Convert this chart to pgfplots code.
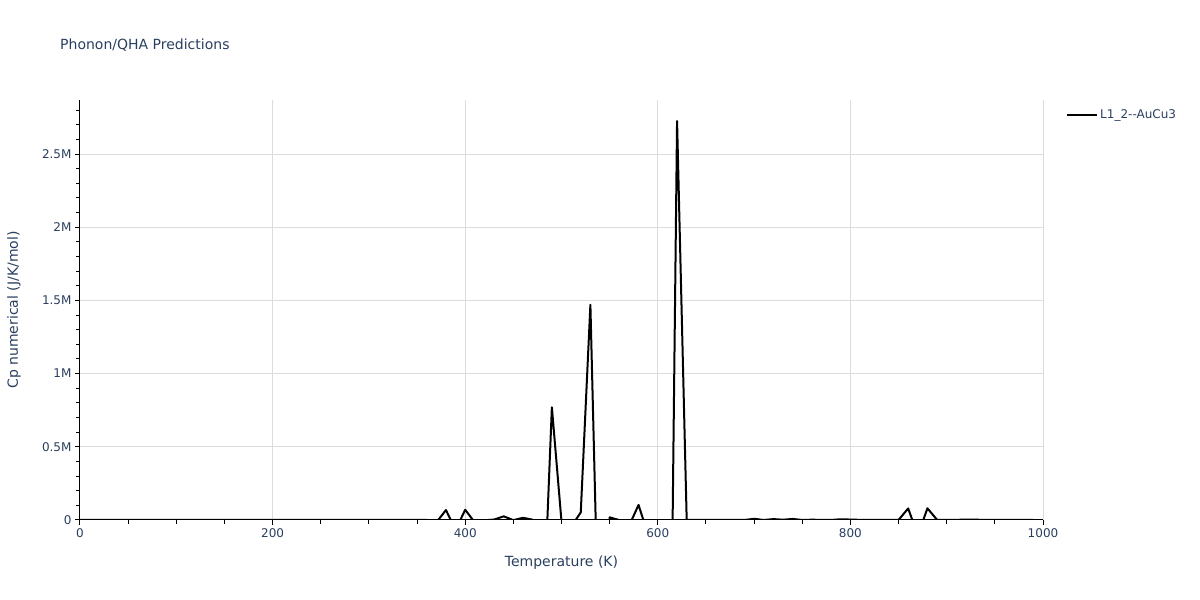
\documentclass[border=0pt]{standalone}
\usepackage{fontspec}
\setmainfont{DejaVu Sans}
\usepackage{pgfplots}
\pgfplotsset{compat=1.18}
\definecolor{txt}{HTML}{2A3F5F}
\definecolor{grd}{HTML}{DCDCDC}
\pgfplotstableread{
T Cp
0 0
10 5
20 20
30 40
40 55
50 65
60 72
70 77
80 81
90 84
100 86
110 88
120 89
130 90
140 91
150 92
160 93
170 93
180 94
190 94
200 95
210 95
220 96
230 96
240 96
250 97
260 97
270 97
280 98
290 98
300 98
310 99
320 99
330 99
340 100
350 100
360 100
370 -17000
380 68000
390 -68000
400 70000
410 -17500
420 -2000
430 3000
440 25000
450 -1000
460 15000
470 2000
480 -870000
490 770000
500 -10000
510 -46000
520 52000
530 1470000
540 -1200000
550 18000
560 -500
570 -42000
580 103000
590 -103000
600 -500000
610 -3190000
620 2725000
630 500
640 200
650 300
660 200
670 300
680 400
690 300
700 8000
710 200
720 6000
730 2000
740 7000
750 300
760 2000
770 1000
780 300
790 5000
800 3000
810 1000
820 500
830 500
840 500
850 500
860 79000
870 -105000
880 80000
890 1000
900 1000
910 1000
920 3000
930 2000
940 1000
950 1000
960 500
970 500
980 500
990 500
}\cpdata
\begin{document}
\begin{tikzpicture}
\useasboundingbox (0pt,0pt) rectangle (1200pt,600pt);
\node[anchor=west, font=\fontsize{14}{16}\selectfont, text=txt, inner sep=0pt] at (60pt,555pt) {Phonon/QHA Predictions};
\begin{axis}[
  at={(80pt,80pt)}, anchor=south west,
  width=963pt, height=420pt, scale only axis,
  xmin=0, xmax=1000, ymin=0, ymax=2869000,
  axis x line*=bottom, axis y line*=left,
  xtick={0,200,400,600,800,1000},
  xticklabels={0,200,400,600,800,1000},
  minor xtick={50,100,150,250,300,350,450,500,550,650,700,750,850,900,950},
  ytick={0,500000,1000000,1500000,2000000,2500000},
  yticklabels={0,0.5M,1M,1.5M,2M,2.5M},
  minor ytick={100000,200000,300000,400000,600000,700000,800000,900000,1100000,1200000,1300000,1400000,1600000,1700000,1800000,1900000,2100000,2200000,2300000,2400000,2600000,2700000,2800000},
  scaled y ticks=false, scaled x ticks=false,
  grid=major, major grid style={grd, line width=1pt},
  tick align=outside, major tick length=5pt, minor tick length=4pt,
  every tick/.style={black, line width=1pt},
  minor tick style={black, line width=1pt},
  axis line style={black, line width=1pt},
  ticklabel style={font=\fontsize{12}{14}\selectfont, text=txt},
  xlabel={Temperature (K)},
  ylabel={Cp numerical (J/K/mol)},
  label style={font=\fontsize{14}{16}\selectfont, text=txt},
  xlabel style={at={(axis description cs:0.5,-0.1024)}, anchor=center},
  ylabel style={at={(axis description cs:-0.0685,0.5)}, anchor=center},
  legend style={at={(axis description cs:1.0239,0.964)}, anchor=west, draw=none, fill=none, inner sep=0pt,
    font=\fontsize{12}{14}\selectfont, text=txt},
  legend cell align=left,
  legend image code/.code={\draw[#1] (0pt,0pt) -- (30pt,0pt);},
]
\addplot[black, line width=2pt, line join=round] table[x=T, y=Cp] {\cpdata};
\addlegendentry{L1\_2-{}-AuCu3}
\end{axis}
\end{tikzpicture}
\end{document}
